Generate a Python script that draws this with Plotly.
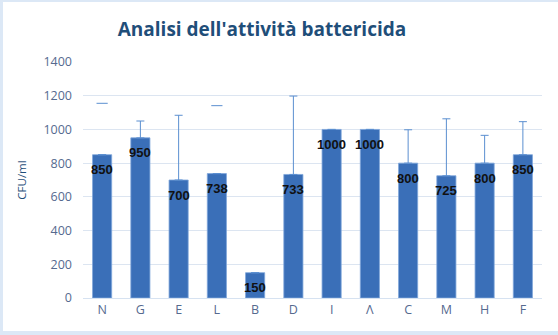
import plotly.graph_objects as go

# Campioni e conta batterica (CFU/ml)
categories = ["N", "G", "E", "L", "B", "D", "I", "Λ", "C", "M", "H", "F"]
cfu_values = [850, 950, 700, 738, 150, 733, 1000, 1000, 800, 725, 800, 850]
# Deviazione positiva (solo verso l'alto)
err_plus = [305, 100, 384, 403, 0, 465, 0, 0, 198, 338, 165, 196]
# Campioni per cui è visibile solo il tratto terminale della barra d'errore
cap_only = ["N", "L"]
y_ticks = [0, 200, 400, 600, 800, 1000, 1200, 1400]

BAR = "#3A6FB8"
ERR = "#5B8FD0"
AXIS_TXT = "#566A8F"

full_err = [0 if c in cap_only else e for c, e in zip(categories, err_plus)]
cap_x = [c for c in categories if c in cap_only]
cap_y = [v + e for c, v, e in zip(categories, cfu_values, err_plus) if c in cap_only]

fig = go.Figure()
fig.add_trace(go.Bar(
    x=categories, y=cfu_values,
    marker=dict(color=BAR, line=dict(color="#7FA6DA", width=0.8)),
    error_y=dict(type="data", symmetric=False, array=full_err,
                 arrayminus=[0] * len(categories),
                 color=ERR, thickness=1, width=4),
    hoverinfo="x+y",
))
fig.add_trace(go.Scatter(
    x=cap_x, y=cap_y, mode="markers",
    marker=dict(symbol="line-ew", size=8, line=dict(color=ERR, width=1)),
    hoverinfo="skip",
))

for c, v in zip(categories, cfu_values):
    fig.add_annotation(x=c, y=v, text=str(v), showarrow=False, yshift=-15,
                       font=dict(family="Liberation Sans", size=13, color="#111111",
                                 weight="bold"))

# pannello bianco con bordo azzurro
fig.add_shape(type="rect", xref="paper", yref="paper",
              x0=-0.1743, x1=1.06, y0=-0.1398, y1=1.254,
              fillcolor="white", line_width=0, layer="below")

fig.update_layout(
    width=558, height=335,
    margin=dict(l=83, r=16, t=62, b=37),
    paper_bgcolor="#DCE8F6",
    plot_bgcolor="rgba(0,0,0,0)",
    showlegend=False,
    bargap=0.5,
    title=dict(text="Analisi dell'attività battericida", x=0.4695, xanchor="center",
               y=0.913, yanchor="middle",
               font=dict(family="Open Sans", size=19, color="#1F4E79", weight="bold")),
    font=dict(family="Open Sans", color=AXIS_TXT),
)
fig.update_xaxes(
    range=[-0.5, len(categories) - 0.5], showgrid=False,
    showline=True, linecolor="#D6E2F1", linewidth=1,
    tickfont=dict(size=12.5, color=AXIS_TXT), ticks="",
)
fig.update_yaxes(
    range=[0, 1400], tickvals=y_ticks, showgrid=True, gridcolor="#DCE5F1",
    gridwidth=1, zeroline=False, ticks="", ticklabelstandoff=10,
    tickfont=dict(size=12.5, color=AXIS_TXT),
    title=dict(text="CFU/ml", font=dict(size=11.5, color="#1F4E79"), standoff=14),
)

fig.write_html("out.html")
